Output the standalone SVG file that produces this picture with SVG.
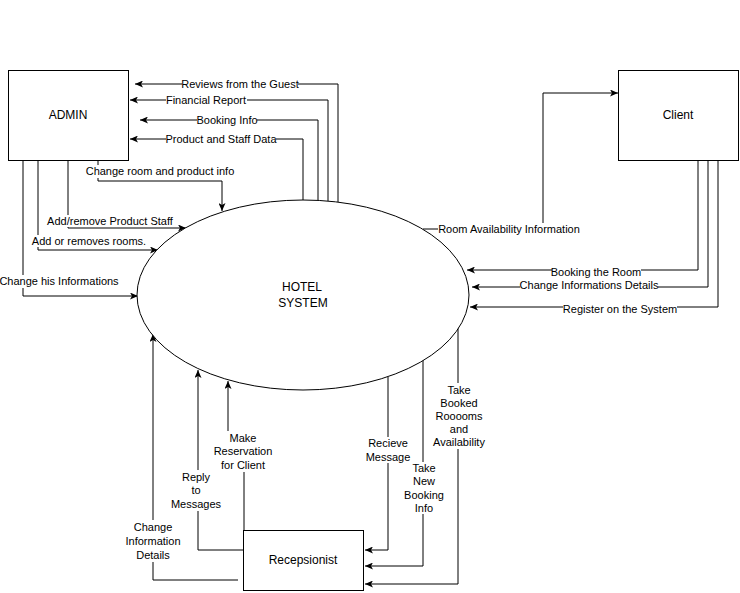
<svg xmlns="http://www.w3.org/2000/svg" width="740" height="593" viewBox="0 0 740 593">
<style>
.box{fill:#fff;stroke:#000;stroke-width:1}
.node{font-family:"Liberation Sans",Arial,sans-serif;font-size:12px;fill:#000;text-anchor:middle}
.lbl{font-family:"Liberation Sans",Arial,sans-serif;font-size:11px;fill:#000;text-anchor:middle}
.edge{fill:none;stroke:#000;stroke-width:1}
.bg{fill:#fff;stroke:none}
</style>
<defs>
<marker id="arr" viewBox="0 0 8 7" refX="8" refY="3.5" markerWidth="8" markerHeight="7" markerUnits="userSpaceOnUse" orient="auto">
<path d="M0,0 L8,3.5 L0,7 L2,3.5 Z" fill="#000"/>
</marker>
</defs>
<rect width="740" height="593" fill="#fff"/>
<g id="connectors">
<path class="edge" d="M338,202 V84 H135" marker-end="url(#arr)"/>
<path class="edge" d="M328,201 V100 H130" marker-end="url(#arr)"/>
<path class="edge" d="M318,200 V120 H140" marker-end="url(#arr)"/>
<path class="edge" d="M303,200 V139 H130" marker-end="url(#arr)"/>
<path class="edge" d="M98,160 V181 H222 V211" marker-end="url(#arr)"/>
<path class="edge" d="M68,160 V228 H186" marker-end="url(#arr)"/>
<path class="edge" d="M38,160 V250 H158" marker-end="url(#arr)"/>
<path class="edge" d="M23,160 V296 H138" marker-end="url(#arr)"/>
<path class="edge" d="M423,229 H543 V93 H618" marker-end="url(#arr)"/>
<path class="edge" d="M698,160 V270 H467" marker-end="url(#arr)"/>
<path class="edge" d="M708,160 V287 H472" marker-end="url(#arr)"/>
<path class="edge" d="M718,160 V307 H470" marker-end="url(#arr)"/>
<path class="edge" d="M238,580 H153 V334" marker-end="url(#arr)"/>
<path class="edge" d="M246,550 H198 V370" marker-end="url(#arr)"/>
<path class="edge" d="M244,530 V452 H228 V381" marker-end="url(#arr)"/>
<path class="edge" d="M388,377 V550 H365" marker-end="url(#arr)"/>
<path class="edge" d="M423,360 V566 H365" marker-end="url(#arr)"/>
<path class="edge" d="M458,327 V584 H365" marker-end="url(#arr)"/>
<g id="edge-labels">
<rect class="bg" x="182" y="78" width="116" height="13"/>
<text class="lbl" x="240" y="88">Reviews from the Guest</text>
<rect class="bg" x="166" y="94" width="81" height="13"/>
<text class="lbl" x="206" y="104">Financial Report</text>
<rect class="bg" x="197" y="114" width="60" height="13"/>
<text class="lbl" x="227" y="124">Booking Info</text>
<rect class="bg" x="166" y="133" width="110" height="13"/>
<text class="lbl" x="221" y="143">Product and Staff Data</text>
<rect class="bg" x="86" y="165" width="147" height="13"/>
<text class="lbl" x="160" y="175">Change room and product info</text>
<rect class="bg" x="47" y="215" width="126" height="12"/>
<text class="lbl" x="110" y="225">Add/remove Product Staff</text>
<rect class="bg" x="32" y="235" width="114" height="12"/>
<text class="lbl" x="89" y="245">Add or removes rooms.</text>
<rect class="bg" x="0" y="275" width="118" height="13"/>
<text class="lbl" x="59" y="285">Change his Informations</text>
<rect class="bg" x="438" y="223" width="142" height="13"/>
<text class="lbl" x="509" y="233">Room Availability Information</text>
<rect class="bg" x="552" y="266" width="89" height="12"/>
<text class="lbl" x="596" y="276">Booking the Room</text>
<rect class="bg" x="520" y="279" width="138" height="12"/>
<text class="lbl" x="589" y="289">Change Informations Details</text>
<rect class="bg" x="563" y="303" width="114" height="12"/>
<text class="lbl" x="620" y="313">Register on the System</text>
<rect class="bg" x="125" y="520" width="56" height="42"/>
<text class="lbl" x="153" y="531">Change</text>
<text class="lbl" x="153" y="545">Information</text>
<text class="lbl" x="153" y="559">Details</text>
<rect class="bg" x="169" y="470" width="54" height="41"/>
<text class="lbl" x="196" y="481">Reply</text>
<text class="lbl" x="196" y="494">to</text>
<text class="lbl" x="196" y="508">Messages</text>
<rect class="bg" x="213" y="431" width="60" height="41"/>
<text class="lbl" x="243" y="442">Make</text>
<text class="lbl" x="243" y="455">Reservation</text>
<text class="lbl" x="243" y="469">for Client</text>
<rect class="bg" x="364" y="437" width="48" height="26"/>
<text class="lbl" x="388" y="447">Recieve</text>
<text class="lbl" x="388" y="461">Message</text>
<rect class="bg" x="403" y="462" width="42" height="52"/>
<text class="lbl" x="424" y="472">Take</text>
<text class="lbl" x="424" y="485">New</text>
<text class="lbl" x="424" y="499">Booking</text>
<text class="lbl" x="424" y="512">Info</text>
<rect class="bg" x="432" y="383" width="54" height="66"/>
<text class="lbl" x="459" y="394">Take</text>
<text class="lbl" x="459" y="407">Booked</text>
<text class="lbl" x="459" y="420">Rooooms</text>
<text class="lbl" x="459" y="433">and</text>
<text class="lbl" x="459" y="446">Availability</text>
</g>
</g>
<g id="admin">
<rect class="box" x="8.5" y="70.5" width="120" height="90"/>
<text class="node" x="68" y="119">ADMIN</text>
</g>
<g id="client">
<rect class="box" x="618.5" y="70.5" width="120" height="90"/>
<text class="node" x="678" y="119">Client</text>
</g>
<g id="hotel-system">
<ellipse class="box" cx="303" cy="295" rx="166" ry="95"/>
<text class="node" x="302" y="291">HOTEL</text>
<text class="node" x="303" y="307">SYSTEM</text>
</g>
<g id="recepsionist">
<rect class="box" x="243.5" y="530.5" width="120" height="60"/>
<text class="node" x="303" y="564">Recepsionist</text>
</g>
</svg>
